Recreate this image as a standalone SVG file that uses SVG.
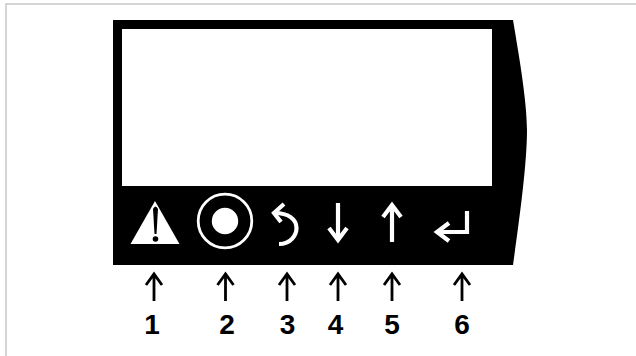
<svg xmlns="http://www.w3.org/2000/svg" width="636" height="356" viewBox="0 0 636 356">
<style>
.w{fill:none;stroke:#fff;stroke-width:4.200}
.k{fill:none;stroke:#000;stroke-width:2.800}
text{font-family:"Liberation Sans",Arial,sans-serif;font-weight:700;font-size:28px;text-anchor:middle;fill:#000}
</style>
<rect width="636" height="356" fill="#fff"/>
<path d="M6 356V4H636" fill="none" stroke="#c8c8c8" stroke-width="1.500"/>
<g id="device">
<path d="M113 20H513C518 50 527 100 527 130C527 165 519 222 513 265H113Z" fill="#000"/>
<rect x="122" y="29" width="370" height="157" fill="#fff"/>
</g>
<g id="button-1">
<path d="M155 201L179.500 244H130.500Z" fill="#fff"/>
<path d="M153 209Q155.500 204 158 209L156.500 234H154.500Z" fill="#000"/>
<circle cx="155.500" cy="239" r="2.800" fill="#000"/>
</g>
<g id="button-2">
<circle cx="225" cy="221" r="26.800" fill="none" stroke="#fff" stroke-width="2.800"/>
<circle cx="225" cy="221" r="13.200" fill="#fff"/>
</g>
<g id="button-3">
<path d="M279 244C291 244 296.500 235 296.500 228C296.500 219 288 213 275 213" class="w"/>
<path d="M284 204L274 213L281 222" class="w"/>
</g>
<g id="button-4">
<path d="M338 203V240M329 228L338 240L347 228" class="w"/>
</g>
<g id="button-5">
<path d="M392 242V205M383 217L392 205L401 217" class="w"/>
</g>
<g id="button-6">
<path d="M467 211V232H437M449 223L437 232L449 241" class="w"/>
</g>
<g id="connectors">
<path d="M154 301V274M146 285L154 274L162 285" class="k"/>
<path d="M225.500 301V274M217.500 285L225.500 274L233.500 285" class="k"/>
<path d="M287 301V274M279 285L287 274L295 285" class="k"/>
<path d="M338 301V274M330 285L338 274L346 285" class="k"/>
<path d="M392 301V274M384 285L392 274L400 285" class="k"/>
<path d="M462 301V274M454 285L462 274L470 285" class="k"/>
</g>
<g id="labels">
<text x="152" y="334">1</text>
<text x="227" y="334">2</text>
<text x="287.500" y="334">3</text>
<text x="335.500" y="334">4</text>
<text x="392" y="334">5</text>
<text x="462" y="334">6</text>
</g>
</svg>
